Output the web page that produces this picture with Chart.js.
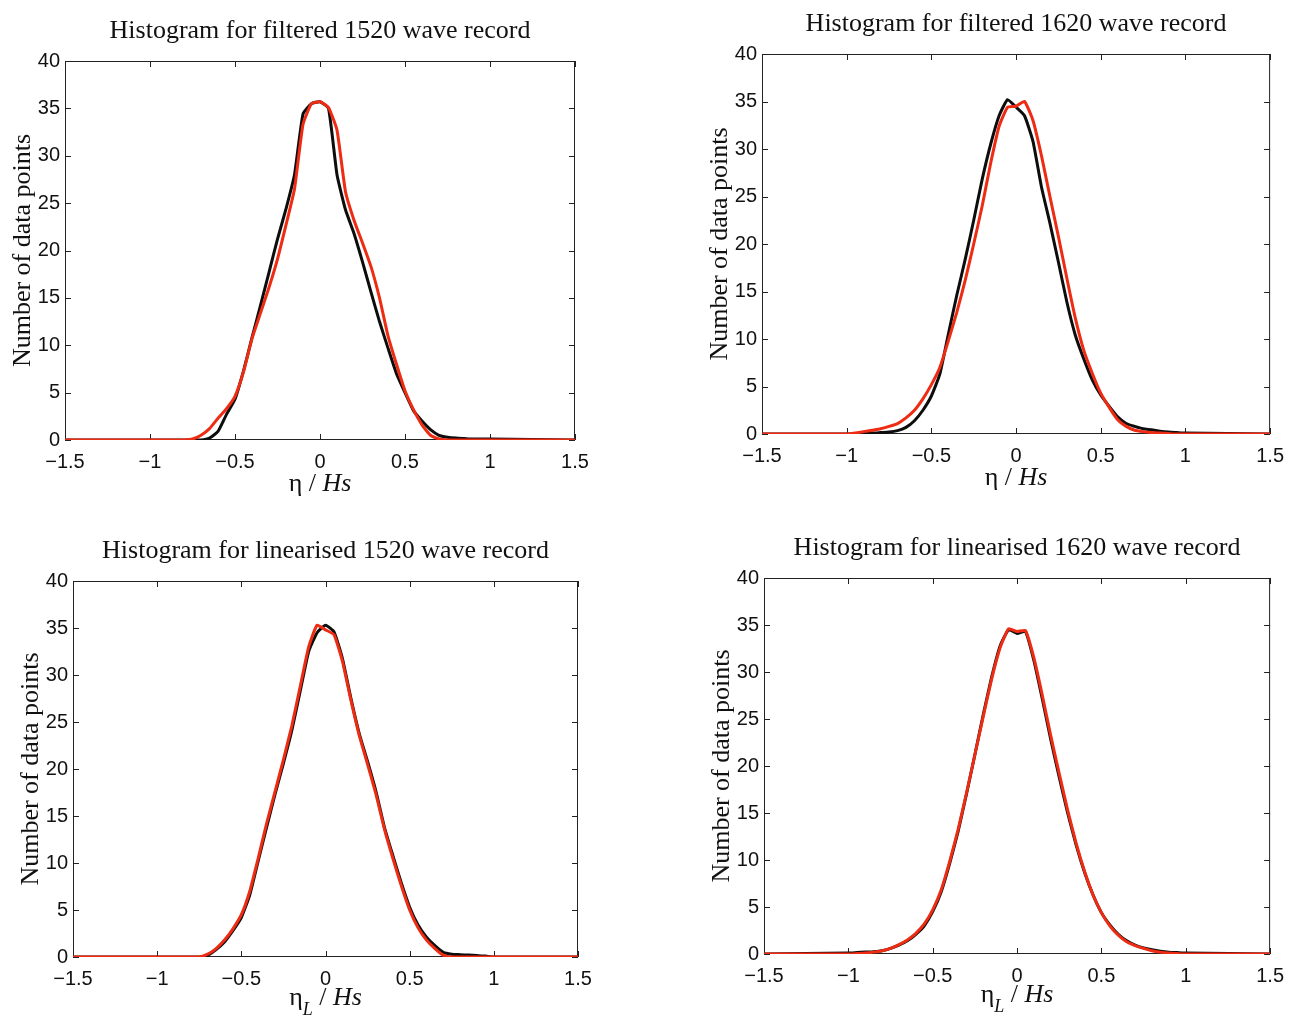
<!DOCTYPE html>
<html lang="en">
<head>
<meta charset="UTF-8">
<title>Wave record histograms</title>
<script src="https://cdn.jsdelivr.net/npm/chart.js"></script>
<style>
  body { margin: 0; background: #fff; }
  .panel { position: absolute; }
</style>
</head>
<body>
<div class="panel" style="left:0px;top:0px"><canvas id="c1" width="647" height="509"></canvas></div>
<div class="panel" style="left:647px;top:0px"><canvas id="c2" width="647" height="509"></canvas></div>
<div class="panel" style="left:0px;top:509px"><canvas id="c3" width="647" height="510"></canvas></div>
<div class="panel" style="left:647px;top:509px"><canvas id="c4" width="647" height="510"></canvas></div>

<script>
// bin centres (eta / Hs), shared by every curve
const etaBins = [-1.5, -1.0, -0.95, -0.9, -0.85, -0.8, -0.75, -0.7, -0.65, -0.6, -0.55,
  -0.5, -0.45, -0.4, -0.35, -0.3, -0.25, -0.2, -0.15, -0.1, -0.05, 0,
  0.05, 0.1, 0.15, 0.2, 0.25, 0.3, 0.35, 0.4, 0.45, 0.5, 0.55, 0.6, 0.65,
  0.7, 0.75, 0.8, 0.85, 0.9, 0.95, 1.0, 1.5];

// counts per bin
const filtered1520Black = [0, 0, 0, 0, 0, 0, 0, 0, 0.2, 0.9, 2.7, 4.3, 7.3, 10.8, 14.2, 17.7, 21.2, 24.4, 28, 34.4, 35.5, 35.7,
  35, 28, 24.3, 21.8, 18.8, 15.6, 12.5, 9.7, 7, 5, 3.1, 2, 1.1, 0.5, 0.3, 0.2, 0.15, 0.1, 0.1, 0.1, 0];
const filtered1520Red = [0, 0, 0, 0, 0, 0, 0.1, 0.5, 1.2, 2.3, 3.3, 4.6, 7.2, 10.7, 13.4, 16.1, 19.1, 22.7, 26.5, 33.3, 35.5, 35.7,
  35.1, 32.7, 26.2, 23.2, 20.8, 18.3, 15, 11, 8, 5.2, 3.2, 1.6, 0.5, 0.1, 0, 0, 0, 0, 0, 0, 0];

const filtered1620Black = [0, 0, 0.05, 0.1, 0.1, 0.15, 0.2, 0.35, 0.7, 1.4, 2.5, 4.0, 6.3, 10.5, 14.6, 18.4, 22.5, 26.8, 30.5, 33.5, 35.2, 34.4,
  33.5, 30.8, 26, 22.2, 18.1, 13.9, 10.4, 7.9, 5.7, 4.1, 2.9, 1.8, 1.1, 0.8, 0.55, 0.45, 0.3, 0.2, 0.15, 0.1, 0];
const filtered1620Red = [0, 0, 0.1, 0.25, 0.4, 0.55, 0.8, 1.1, 1.7, 2.5, 3.7, 5.2, 7, 9.8, 12.8, 16.2, 20, 24, 28.5, 32.4, 34.4, 34.5,
  35, 33, 29.3, 25, 20.8, 16.4, 12.2, 8.8, 6.4, 4.3, 2.8, 1.5, 0.8, 0.4, 0.25, 0.15, 0.1, 0.05, 0, 0, 0];

const linear1520Black = [0, 0, 0, 0, 0, 0, 0, 0.2, 0.8, 1.6, 2.8, 4.2, 6.6, 10.2, 13.8, 17.3, 20.6, 24.1, 28.3, 32.5, 34.5, 35.3,
  34.6, 31.8, 27.6, 23.8, 20.8, 17.6, 13.8, 10.8, 7.9, 5.3, 3.4, 2.1, 1.2, 0.5, 0.3, 0.25, 0.2, 0.15, 0.1, 0, 0];
const linear1520Red = [0, 0, 0, 0, 0, 0, 0, 0.3, 0.9, 1.8, 3.0, 4.5, 7, 10.5, 14.2, 17.6, 21, 24.6, 28.8, 33, 35.3, 34.8,
  34.3, 31.5, 27.4, 23.6, 20.5, 17.3, 13.6, 10.5, 7.6, 5, 3.1, 1.8, 0.9, 0.2, 0, 0, 0, 0, 0, 0, 0];

const linear1620Black = [0, 0.1, 0.15, 0.2, 0.25, 0.35, 0.6, 0.95, 1.4, 2.1, 3.0, 4.5, 6.6, 9.6, 13, 17, 21.2, 25.5, 29.5, 32.8, 34.5, 34.1,
  34.3, 31.2, 27.1, 22.8, 18.8, 15, 11.6, 8.7, 6.3, 4.4, 3.1, 2.1, 1.4, 0.95, 0.65, 0.45, 0.3, 0.2, 0.15, 0.1, 0];
const linear1620Red = [0, 0, 0.05, 0.1, 0.2, 0.35, 0.6, 1.0, 1.5, 2.2, 3.2, 4.7, 6.8, 9.8, 13.2, 17.1, 21.2, 25.3, 29.3, 32.6, 34.6, 34.3,
  34.4, 31.5, 27.5, 23.2, 19.2, 15.3, 11.8, 8.8, 6.3, 4.4, 3, 2, 1.3, 0.9, 0.6, 0.35, 0.2, 0.1, 0.05, 0, 0];

const xRange = [-1.5, 1.5], xStep = 0.5;
const yRange = [0, 40], yStep = 5;

const serif = '"Liberation Serif", "Times New Roman", serif';
const sans = '"Liberation Sans", Arial, sans-serif';

// canvas origin and the plot box wanted inside it (page pixels: left, top, right, bottom)
const panels = [
  { id: 'c1', ox: 0, oy: 0, box: [65, 61, 575, 440], title: 'Histogram for filtered 1520 wave record',
    sub: false, black: filtered1520Black, red: filtered1520Red },
  { id: 'c2', ox: 647, oy: 0, box: [762, 54, 1272, 434], title: 'Histogram for filtered 1620 wave record',
    sub: false, black: filtered1620Black, red: filtered1620Red },
  { id: 'c3', ox: 0, oy: 509, box: [73, 581, 578, 957], title: 'Histogram for linearised 1520 wave record',
    sub: true, black: linear1520Black, red: linear1520Red },
  { id: 'c4', ox: 647, oy: 509, box: [764, 578, 1273, 954], title: 'Histogram for linearised 1620 wave record',
    sub: true, black: linear1620Black, red: linear1620Red }
];

// x label with mixed upright / italic pieces
function drawXLabel(ctx, cx, cy, withSub) {
  const parts = [{ t: '\u03B7', f: '26px ' + serif, dy: 0 }];
  if (withSub) parts.push({ t: 'L', f: 'italic 18px ' + serif, dy: 12 });
  parts.push({ t: ' / ', f: '26px ' + serif, dy: 0 });
  parts.push({ t: 'Hs', f: 'italic 26px ' + serif, dy: 0 });
  let total = 0;
  parts.forEach(p => { ctx.font = p.f; p.w = ctx.measureText(p.t).width; total += p.w; });
  let x = cx - total / 2;
  ctx.textAlign = 'left';
  parts.forEach(p => { ctx.font = p.f; ctx.fillText(p.t, x, cy + p.dy); x += p.w; });
}

// box, inward ticks and the titles round the plot
const framePlugin = {
  id: 'frame',
  beforeDatasetsDraw(chart, args, opts) {
    const { ctx, chartArea: a, scales: { x, y } } = chart;
    ctx.save();
    ctx.strokeStyle = '#222';
    ctx.lineWidth = 1;
    ctx.strokeRect(a.left + 0.5, a.top + 0.5, a.width - 1, a.height - 1);
    ctx.beginPath();
    x.ticks.forEach(t => {
      const px = Math.round(x.getPixelForValue(t.value)) + 0.5;
      ctx.moveTo(px, a.bottom); ctx.lineTo(px, a.bottom - 6);
      ctx.moveTo(px, a.top); ctx.lineTo(px, a.top + 6);
    });
    y.ticks.forEach(t => {
      const py = Math.round(y.getPixelForValue(t.value)) + 0.5;
      ctx.moveTo(a.left, py); ctx.lineTo(a.left + 6, py);
      ctx.moveTo(a.right, py); ctx.lineTo(a.right - 6, py);
    });
    ctx.stroke();

    ctx.fillStyle = '#111';
    ctx.textBaseline = 'middle';
    ctx.textAlign = 'center';
    ctx.font = '26px ' + serif;
    ctx.fillText(opts.title, (a.left + a.right) / 2, a.top - 30);

    ctx.save();
    ctx.translate(a.left - 42, (a.top + a.bottom) / 2);
    ctx.rotate(-Math.PI / 2);
    ctx.fillText('Number of data points', 0, 0);
    ctx.restore();

    drawXLabel(ctx, (a.left + a.right) / 2, a.bottom + (opts.sub ? 41 : 44), opts.sub);
    ctx.restore();
  }
};

const minusSign = v => String(v).replace('-', '\u2212');

panels.forEach(p => {
  const canvas = document.getElementById(p.id);
  const [L, T, R, B] = p.box;
  const yAxisW = L - p.ox;
  const xAxisH = p.oy + canvas.height - B;

  new Chart(canvas, {
    type: 'line',
    data: {
      datasets: [
        {
          label: 'black',
          data: etaBins.map((e, i) => ({ x: e, y: p.black[i] })),
          borderColor: '#0d0d0d',
          borderWidth: 3,
          pointRadius: 0,
          tension: 0.15,
          order: 2
        },
        {
          label: 'red',
          data: etaBins.map((e, i) => ({ x: e, y: p.red[i] })),
          borderColor: '#ee2b13',
          borderWidth: 3,
          pointRadius: 0,
          tension: 0.15,
          order: 1
        }
      ]
    },
    options: {
      responsive: false,
      animation: false,
      layout: { padding: { left: 0, top: T - p.oy, right: p.ox + canvas.width - R, bottom: 0 } },
      plugins: {
        legend: { display: false },
        tooltip: { enabled: false },
        frame: { title: p.title, sub: p.sub }
      },
      scales: {
        x: {
          type: 'linear',
          min: xRange[0],
          max: xRange[1],
          grid: { display: false, drawTicks: false },
          border: { display: false },
          ticks: {
            stepSize: xStep,
            padding: 10,
            maxRotation: 0,
            autoSkip: false,
            color: '#111',
            font: { family: sans, size: 20 },
            callback: minusSign
          },
          afterFit: s => { s.height = xAxisH; }
        },
        y: {
          min: yRange[0],
          max: yRange[1],
          grid: { display: false, drawTicks: false },
          border: { display: false },
          ticks: {
            stepSize: yStep,
            padding: 5,
            color: '#111',
            font: { family: sans, size: 20 }
          },
          afterFit: s => { s.width = yAxisW; }
        }
      }
    },
    plugins: [framePlugin]
  });
});
</script>
</body>
</html>
